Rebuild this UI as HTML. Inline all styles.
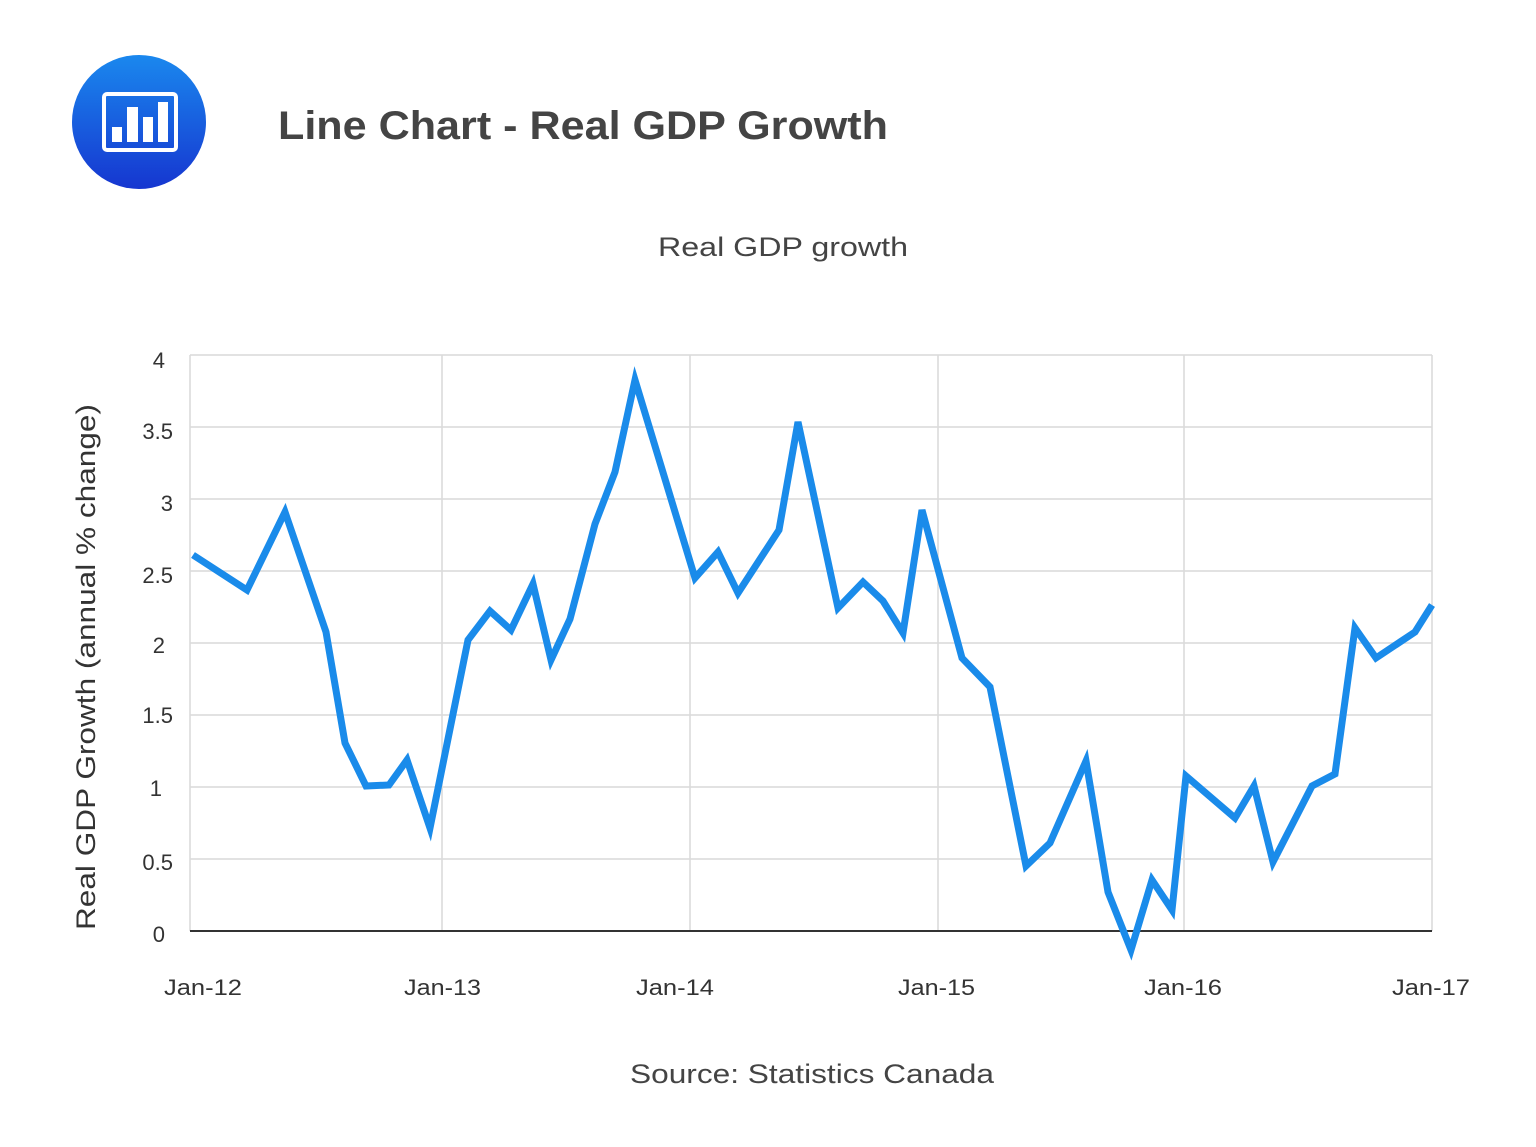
<!DOCTYPE html>
<html><head><style>body{margin:0;background:#fff}svg{display:block}</style></head><body>
<svg width="1536" height="1147" xmlns="http://www.w3.org/2000/svg" font-family="Liberation Sans, sans-serif">
<defs><linearGradient id="g" x1="0" y1="0" x2="0" y2="1"><stop offset="0" stop-color="#1a88ee"/><stop offset="1" stop-color="#1636d0"/></linearGradient></defs>
<circle cx="139" cy="122" r="67" fill="url(#g)"/>
<rect x="104" y="94" width="72" height="56" rx="3" fill="none" stroke="#fff" stroke-width="4"/>
<rect x="112" y="127" width="10" height="15" fill="#fff"/>
<rect x="127" y="107" width="11" height="35" fill="#fff"/>
<rect x="143" y="117" width="10" height="25" fill="#fff"/>
<rect x="158" y="102" width="10" height="40" fill="#fff"/>
<text x="278" y="139" font-size="40" font-weight="bold" fill="#444" textLength="610" lengthAdjust="spacingAndGlyphs">Line Chart - Real GDP Growth</text>
<text x="658" y="256" font-size="27" fill="#444" textLength="250" lengthAdjust="spacingAndGlyphs">Real GDP growth</text>
<g stroke="#d9d9d9" stroke-width="1.5">
<line x1="190" y1="355" x2="1432" y2="355"/><line x1="190" y1="427" x2="1432" y2="427"/><line x1="190" y1="499" x2="1432" y2="499"/><line x1="190" y1="571" x2="1432" y2="571"/><line x1="190" y1="643" x2="1432" y2="643"/><line x1="190" y1="715" x2="1432" y2="715"/><line x1="190" y1="787" x2="1432" y2="787"/><line x1="190" y1="859" x2="1432" y2="859"/>
<line x1="190" y1="355" x2="190" y2="931"/><line x1="442" y1="355" x2="442" y2="931"/><line x1="690" y1="355" x2="690" y2="931"/><line x1="938" y1="355" x2="938" y2="931"/><line x1="1184" y1="355" x2="1184" y2="931"/><line x1="1432" y1="355" x2="1432" y2="931"/>
</g>
<line x1="190" y1="931" x2="1432" y2="931" stroke="#333" stroke-width="2"/>
<g font-size="22" fill="#333" text-anchor="end">
<text x="165" y="368">4</text><text x="173" y="439">3.5</text><text x="173" y="511">3</text><text x="173" y="583">2.5</text><text x="165" y="653">2</text><text x="173" y="723">1.5</text><text x="162" y="796">1</text><text x="173" y="870">0.5</text><text x="165" y="942">0</text>
</g>
<g font-size="22" fill="#333">
<text x="164" y="995" textLength="78" lengthAdjust="spacingAndGlyphs">Jan-12</text><text x="404" y="995" textLength="77" lengthAdjust="spacingAndGlyphs">Jan-13</text><text x="636" y="995" textLength="78" lengthAdjust="spacingAndGlyphs">Jan-14</text><text x="898" y="995" textLength="77" lengthAdjust="spacingAndGlyphs">Jan-15</text><text x="1144" y="995" textLength="78" lengthAdjust="spacingAndGlyphs">Jan-16</text><text x="1392" y="995" textLength="78" lengthAdjust="spacingAndGlyphs">Jan-17</text>
</g>
<text transform="translate(95,930) rotate(-90)" font-size="27" fill="#333" textLength="526" lengthAdjust="spacingAndGlyphs">Real GDP Growth (annual % change)</text>
<text x="630" y="1083" font-size="27" fill="#444" textLength="364" lengthAdjust="spacingAndGlyphs">Source: Statistics Canada</text>
<polyline fill="none" stroke="#1a8bea" stroke-width="7" stroke-linejoin="miter" points="193,555 247,590 285,512 326,632 345,743 366,786 389,785 407,760 430,828 468,640 490,611 511,630 533,584 551,660 570,619 595,524 615,472 635,380 695,578 718,552 738,593 779,530 798,422 838,608 863,582 883,601 903,633 922,510 962,658 990,687 1026,866 1050,843 1086,761 1108,892 1131,950 1152,880 1172,910 1186,776 1235,818 1254,786 1273,862 1312,786 1335,774 1355,628 1376,658 1415,632 1432,605"/>
</svg>
</body></html>
